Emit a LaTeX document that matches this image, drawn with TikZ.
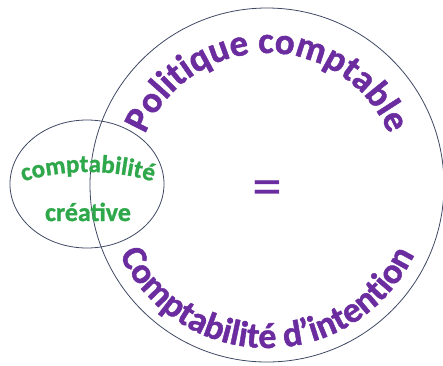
\documentclass[tikz,border=0pt]{standalone}
\usepackage{fontspec}
\setmainfont{Carlito}
\newfontfamily\heavyface{Carlito}[BoldFeatures={FakeBold=1.2}]
\usetikzlibrary{decorations.text}
\definecolor{plum}{HTML}{6A2C9E}
\definecolor{leaf}{HTML}{2EA84A}
\definecolor{rim}{HTML}{3E4862}
\tikzset{
  rimline/.style={draw=rim, line width=0.8pt},
  arctext/.style 2 args={decorate, decoration={text along path, text align=center,
      text={|\heavyface\bfseries\fontsize{#1}{#1}\selectfont|#2}}},
}
\begin{document}
\begin{tikzpicture}[x=1pt, y=1pt]
  \useasboundingbox (0,0) rectangle (443,-365);
  \coordinate (big) at (267,-185);
  \coordinate (small) at (87,-184);
  % the two outlines
  \draw[rimline] (big) circle[radius=177pt];
  \draw[rimline] (small) ellipse[x radius=77pt, y radius=64pt];
  % purple titles around the large circle
  \path[arctext={37}{Politique comptable}, decoration={text color=plum}]
    (big) ++(180:132pt) arc[start angle=180, end angle=0, radius=132pt];
  \path[arctext={36}{Comptabilité d’intention}, decoration={text color=plum}]
    (big) ++(180:163pt) arc[start angle=180, end angle=360, radius=163pt];
  % green label in the small ellipse
  \coordinate (archc) at (88,-400);
  \path[arctext={25}{comptabilité}, decoration={text color=leaf}]
    (archc) ++(118:228pt) arc[start angle=118, end angle=62, radius=228pt];
  \node[text=leaf, font=\heavyface\bfseries\fontsize{26}{26}\selectfont, anchor=base] (cre) at (88,-221) {créative};
  % equals sign in the middle
  \node[text=plum, font=\fontsize{60}{60}\selectfont] (eq) at (267,-194) {=};
\end{tikzpicture}
\end{document}
